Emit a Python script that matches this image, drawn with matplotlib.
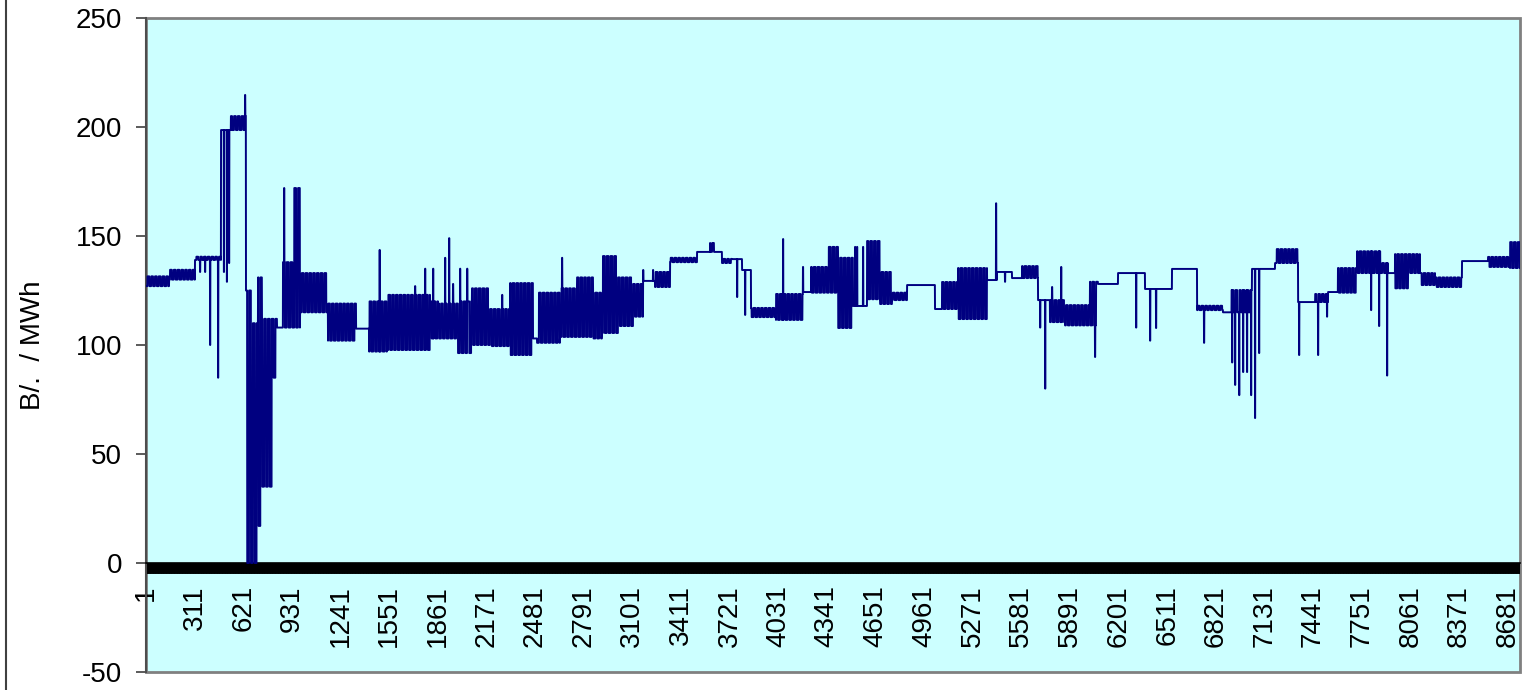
import numpy as np
import matplotlib.pyplot as plt
from matplotlib.patches import Rectangle
from matplotlib.lines import Line2D

N_HOURS = 8760

# hourly marginal price, run-length coded: segment first hour, off-peak price, peak price
seg_start = [1, 148, 313, 479, 542, 638, 676, 715, 740, 804,
             836, 868, 938, 983, 1161, 1340, 1423, 1537, 1812, 1863,
             1990, 2079, 2194, 2322, 2468, 2494, 2640, 2749, 2851, 2908,
             3010, 3106, 3170, 3246, 3342, 3514, 3597, 3629, 3673, 3737,
             3801, 3858, 4017, 4189, 4241, 4349, 4413, 4508, 4598, 4681,
             4757, 4853, 5031, 5076, 5178, 5363, 5426, 5522, 5586, 5688,
             5764, 5860, 6019, 6070, 6198, 6370, 6542, 6702, 6867, 6912,
             7052, 7199, 7346, 7455, 7537, 7600, 7722, 7881, 7919, 7964,
             8047, 8123, 8219, 8391, 8557, 8697]
seg_low = [127, 130, 139, 198.6, 198.6, 0, 0, 17, 35, 85,
           108, 108, 108, 115, 102, 107.5, 97, 97.7, 103, 103,
           96.3, 100, 99.5, 95.4, 103, 101, 103.7, 103.7, 103, 105.5,
           108.7, 113, 129.4, 126.6, 138, 142.7, 142.7, 142.7, 137.6, 139.4,
           134.4, 112.8, 111.5, 124.3, 124, 124, 107.8, 117.9, 121, 118.8,
           120.6, 127.5, 116.5, 116.5, 111.9, 129.8, 133.5, 130.7, 130.7, 120.6,
           110.5, 109, 109, 128, 133, 125.7, 134.9, 116, 115, 115,
           134.9, 137.6, 119.7, 119.7, 124.3, 124, 133, 133, 133, 126,
           133, 127.5, 126.6, 138.5, 135.8, 135.3]
seg_high = [131.5, 134.5, 140.5, 198.6, 205, 125, 110, 131, 112, 112,
            108, 138, 172, 133, 119, 107.5, 120, 123, 120, 119,
            120, 126, 116.5, 128.4, 103, 124, 126, 131, 124, 140.8,
            131, 128, 129.4, 133.5, 140, 142.7, 146.8, 142.7, 139.5, 139.4,
            134.4, 117, 123.4, 124.3, 135.8, 145, 140, 117.9, 147.7, 133.5,
            124, 127.5, 116.5, 128.9, 135.3, 129.8, 133.5, 130.7, 136.2, 120.6,
            120.6, 118.3, 129, 128, 133, 125.7, 134.9, 118, 115, 125.2,
            134.9, 144, 119.7, 123.4, 124.3, 135.3, 143, 137.6, 133, 141.7,
            141.7, 133, 131, 138.5, 140.4, 147.2]

# single-hour price spikes / dips
spike_hour = [345, 377, 409, 460, 497, 516, 530, 632, 881, 1490,
              1716, 1780, 1831, 1907, 1933, 1958, 2003, 2048, 2271, 2653,
              3170, 3233, 3769, 3820, 4062, 4189, 4521, 4534, 4572, 5420,
              5477, 5701, 5733, 5777, 5835, 6051, 6313, 6402, 6440, 6746,
              6925, 6944, 6970, 6995, 7020, 7046, 7071, 7097, 7352, 7473,
              7530, 7811, 7862, 7913]
spike_value = [133.5, 133.5, 100, 85, 133.5, 129, 137.6, 214.7, 172, 143.6,
               127, 135, 135, 140, 149, 128, 135, 135, 123, 140,
               134.4, 134.4, 122, 113.8, 148.6, 135.8, 145, 145, 145, 165,
               129, 108, 80, 126.6, 135.8, 94.5, 108, 102, 107.8, 101,
               92, 81.7, 77, 87.6, 87.6, 77, 66.5, 96.3, 95.4, 95.4,
               113, 116, 108.7, 86]

y_ticks = [-50, 0, 50, 100, 150, 200, 250]
label_step = 310

assert len(seg_start) == len(seg_low) == len(seg_high)
assert len(spike_hour) == len(spike_value)

hours = np.arange(1, N_HOURS + 1)
seg_idx = np.searchsorted(seg_start, hours, side="right") - 1
hour_of_day = (hours - 1) % 24
is_peak = (hour_of_day >= 9) & (hour_of_day < 21)
price = np.where(is_peak, np.array(seg_high)[seg_idx], np.array(seg_low)[seg_idx])
for h, v in zip(spike_hour, spike_value):
    price[h - 1:h + 1] = v

plt.rcParams["font.family"] = ["Liberation Sans", "DejaVu Sans"]
plt.rcParams["axes.unicode_minus"] = False

fig = plt.figure(figsize=(15.22, 6.9), dpi=100)
ax = fig.add_axes([146 / 1522, 1 - 672 / 690, 1374 / 1522, 654 / 690])
ax.set_facecolor("#CCFFFF")

# move the category axis to y = 0 first (this resets the ticks)
for s in ["top", "right"]:
    ax.spines[s].set_visible(False)
ax.spines["bottom"].set_position(("data", 0))
ax.spines["bottom"].set_color("black")
ax.spines["bottom"].set_linewidth(1.2)
ax.spines["left"].set_color("#4d4d4d")
ax.spines["left"].set_linewidth(1.5)

ax.plot(hours, price, color="#000080", lw=1.4, zorder=3)

# category tick marks under the zero axis
ax.vlines(hours, -4.6, 0, color="black", lw=0.6, zorder=2)

ax.set_xlim(0.5, N_HOURS + 0.5)
ax.set_ylim(-50, 250)
ax.set_yticks(y_ticks)
ax.set_xticks(hours[::label_step])
ax.set_xticklabels([str(h) for h in hours[::label_step]])

ax.add_patch(Rectangle((0, 0), 1, 1, transform=ax.transAxes, fill=False,
                       edgecolor="#808080", lw=2, clip_on=False, zorder=1))

ax.tick_params(axis="x", length=0, pad=16, labelsize=20, labelrotation=90)
ax.tick_params(axis="y", length=7.2, width=1.3, color="#4d4d4d", pad=10, labelsize=20)
for lbl in ax.get_xticklabels():
    lbl.set_va("top")
    lbl.set_ha("center")

fig.text(33 / 1522, 1 - 345 / 690, "B/.  / MWh", rotation=90, ha="center", va="center", fontsize=20)
fig.add_artist(Line2D([6 / 1522, 6 / 1522], [0, 1], color="#404040", lw=1.5))

fig.savefig("out.png", dpi=100)
